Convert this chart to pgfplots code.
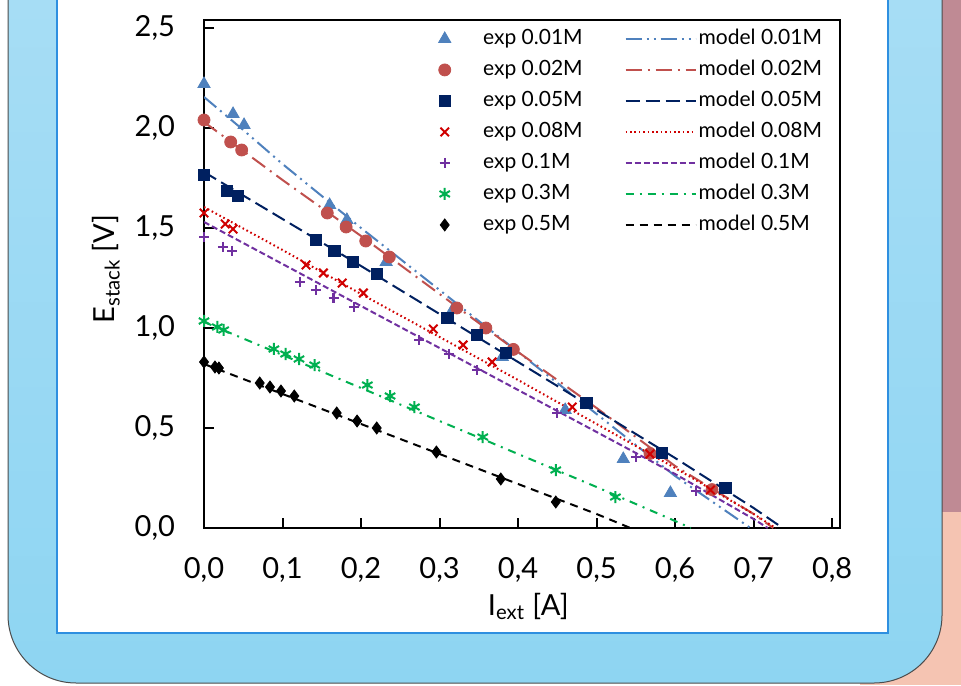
\documentclass[border=0pt]{standalone}
\usepackage{pgfplots}
\pgfplotsset{compat=1.18}
\usepackage{fontspec}
\setmainfont{Lato}
\definecolor{cA}{HTML}{4F81BD}
\definecolor{cB}{HTML}{C0504D}
\definecolor{cC}{HTML}{002060}
\definecolor{cD}{HTML}{D00000}
\definecolor{cE}{HTML}{7030A0}
\definecolor{cF}{HTML}{00B050}
\definecolor{mauve}{HTML}{BF8A94}
\definecolor{salmon}{HTML}{F5C4B2}
\definecolor{bluetop}{HTML}{A9DEF5}
\definecolor{bluebot}{HTML}{8ED5F2}
\definecolor{frameblue}{HTML}{2E8FE0}
\pgfplotsset{
  modelleg/.style={legend image code/.code={\draw[##1] (0pt,0pt) -- (35pt,0pt);}},
  expleg/.style={legend image code/.code={\path (-4pt,0pt) (18pt,0pt); \draw[##1] plot coordinates {(0pt,0pt)};}},
}
\begin{document}
\begin{tikzpicture}
\begin{scope}[x=0.5pt,y=-0.5pt,shift={(0pt,342.5pt)}]
\path[use as bounding box] (0,0) rectangle (961,685);
\fill[white] (0,0) rectangle (961,685);
\fill[mauve] (925,0) rectangle (961,516);
\fill[salmon] (860,512) rectangle (961,685);
\begin{scope}
\clip (0,0) rectangle (961,685);
\shade[top color=bluetop, bottom color=bluebot, draw=gray!60!black, line width=0.5pt, rounded corners=34pt] (8,-80) rectangle (942,683);
\end{scope}
\filldraw[fill=white, draw=frameblue, line width=1pt] (57,-10) -- (57,633) -- (888,633) -- (888,-10);
\end{scope}
\begin{axis}[
  at={(102pt,78.5pt)}, anchor=south west,
  width=318pt, height=254pt, scale only axis,
  xmin=0, xmax=0.81, ymin=0, ymax=2.54,
  xtick={0,0.1,0.2,0.3,0.4,0.5,0.6,0.7,0.8},
  ytick={0,0.5,1,1.5,2,2.5},
  xtick pos=bottom, ytick pos=left, tick align=inside,
  major tick length=5pt,
  axis line style={line width=1pt},
  tick style={line width=1pt, black},
  ticklabel style={font=\fontsize{14.5}{16}\selectfont},
  xticklabel style={yshift=-11pt},
  yticklabel style={xshift=-11pt},
  /pgf/number format/.cd, use comma, fixed, fixed zerofill, precision=1, assume math mode=true,
  /pgfplots/.cd,
  xlabel={I\textsubscript{ext} [A]},
  ylabel={E\textsubscript{stack} [V]},
  every axis x label/.style={at={(axis description cs:0.51,0)}, anchor=north, yshift=-29pt, font=\fontsize{14.5}{16}\selectfont},
  every axis y label/.style={at={(axis description cs:0,0.51)}, rotate=90, anchor=center, yshift=49pt, font=\fontsize{14.5}{16}\selectfont},
  legend columns=2,
  legend cell align=left,
  legend style={draw=none, fill=none, at={(0.985,0.995)}, anchor=north east,
    font=\fontsize{10.5}{12}\selectfont,
    nodes={inner sep=1pt, text height=8pt, text depth=2pt},
    row sep=3.5pt,
    /tikz/every even column/.append style={column sep=20pt}},
]
\addplot[only marks, mark=triangle*, color=cA, mark size=3.5pt, expleg] coordinates {
(0,2.22) (0.037,2.07) (0.051,2.015) (0.16,1.615) (0.182,1.54) (0.232,1.33) (0.318,1.10) (0.38,0.855) (0.46,0.59) (0.534,0.345) (0.594,0.175)};
\addlegendentry{exp 0.01M}
\addplot[no marks, color=cA, line width=1pt, dash pattern=on 8pt off 2.5pt on 1pt off 2.5pt on 1pt off 2.5pt, modelleg] coordinates {
(0,2.155) (0.05,1.99) (0.1,1.82) (0.2,1.50) (0.3,1.19) (0.4,0.88) (0.5,0.57) (0.6,0.26) (0.696,0)};
\addlegendentry{model 0.01M}
\addplot[only marks, mark=*, color=cB, mark size=3pt, expleg] coordinates {
(0,2.04) (0.034,1.93) (0.048,1.89) (0.157,1.575) (0.181,1.505) (0.206,1.435) (0.236,1.355) (0.322,1.10) (0.359,1.0) (0.394,0.893) (0.568,0.373) (0.647,0.192)};
\addlegendentry{exp 0.02M}
\addplot[no marks, color=cB, line width=1pt, dash pattern=on 8pt off 3pt on 1pt off 3pt, modelleg] coordinates {
(0,2.03) (0.1,1.74) (0.2,1.46) (0.3,1.17) (0.4,0.88) (0.5,0.60) (0.6,0.31) (0.7,0.07) (0.725,0)};
\addlegendentry{model 0.02M}
\addplot[only marks, mark=square*, color=cC, mark size=2.8pt, expleg] coordinates {
(0,1.765) (0.029,1.685) (0.043,1.66) (0.143,1.44) (0.166,1.385) (0.19,1.33) (0.22,1.27) (0.31,1.05) (0.348,0.965) (0.384,0.875) (0.487,0.625) (0.583,0.375) (0.664,0.2)};
\addlegendentry{exp 0.05M}
\addplot[no marks, color=cC, line width=1pt, dash pattern=on 7pt off 3pt, modelleg] coordinates {
(0,1.78) (0.1,1.545) (0.2,1.31) (0.3,1.07) (0.4,0.83) (0.5,0.59) (0.6,0.35) (0.7,0.10) (0.737,0)};
\addlegendentry{model 0.05M}
\addplot[only marks, mark=x, color=cD, mark size=3pt, mark options={line width=1pt}, expleg] coordinates {
(0,1.575) (0.027,1.52) (0.037,1.495) (0.13,1.315) (0.152,1.275) (0.176,1.225) (0.203,1.175) (0.292,0.995) (0.33,0.915) (0.367,0.83) (0.469,0.605) (0.568,0.37) (0.645,0.19)};
\addlegendentry{exp 0.08M}
\addplot[no marks, color=cD, line width=1pt, dash pattern=on 0.8pt off 1.4pt, modelleg] coordinates {
(0,1.605) (0.1,1.39) (0.2,1.17) (0.3,0.955) (0.4,0.74) (0.5,0.52) (0.6,0.30) (0.7,0.07) (0.728,0)};
\addlegendentry{model 0.08M}
\addplot[only marks, mark=+, color=cE, mark size=2.5pt, mark options={line width=1.1pt}, expleg] coordinates {
(0,1.455) (0.024,1.405) (0.036,1.385) (0.122,1.23) (0.143,1.19) (0.165,1.15) (0.191,1.105) (0.274,0.94) (0.312,0.87) (0.348,0.79) (0.45,0.575) (0.55,0.355) (0.627,0.185)};
\addlegendentry{exp 0.1M}
\addplot[no marks, color=cE, line width=1pt, dash pattern=on 3pt off 1.5pt, modelleg] coordinates {
(0,1.53) (0.1,1.32) (0.2,1.11) (0.3,0.90) (0.4,0.69) (0.5,0.48) (0.6,0.27) (0.7,0.045) (0.718,0)};
\addlegendentry{model 0.1M}
\addplot[only marks, mark=asterisk, color=cF, mark size=3pt, mark options={line width=1pt}, expleg] coordinates {
(0,1.035) (0.017,1.005) (0.025,0.99) (0.089,0.895) (0.104,0.87) (0.121,0.845) (0.141,0.815) (0.208,0.715) (0.237,0.66) (0.268,0.605) (0.355,0.455) (0.448,0.29) (0.524,0.155)};
\addlegendentry{exp 0.3M}
\addplot[no marks, color=cF, line width=1pt, dash pattern=on 4pt off 3pt on 1pt off 3pt, modelleg] coordinates {
(0,1.03) (0.1,0.865) (0.2,0.70) (0.3,0.535) (0.4,0.37) (0.5,0.205) (0.6,0.035) (0.62,0)};
\addlegendentry{model 0.3M}
\addplot[only marks, mark=diamond*, color=black, mark size=3pt, expleg] coordinates {
(0,0.83) (0.014,0.805) (0.019,0.80) (0.071,0.725) (0.084,0.705) (0.098,0.685) (0.115,0.66) (0.169,0.575) (0.195,0.535) (0.22,0.50) (0.296,0.38) (0.378,0.245) (0.448,0.13)};
\addlegendentry{exp 0.5M}
\addplot[no marks, color=black, line width=1pt, dash pattern=on 4pt off 3pt, modelleg] coordinates {
(0,0.82) (0.1,0.67) (0.2,0.52) (0.3,0.37) (0.4,0.22) (0.5,0.07) (0.543,0)};
\addlegendentry{model 0.5M}
\end{axis}
\end{tikzpicture}
\end{document}
